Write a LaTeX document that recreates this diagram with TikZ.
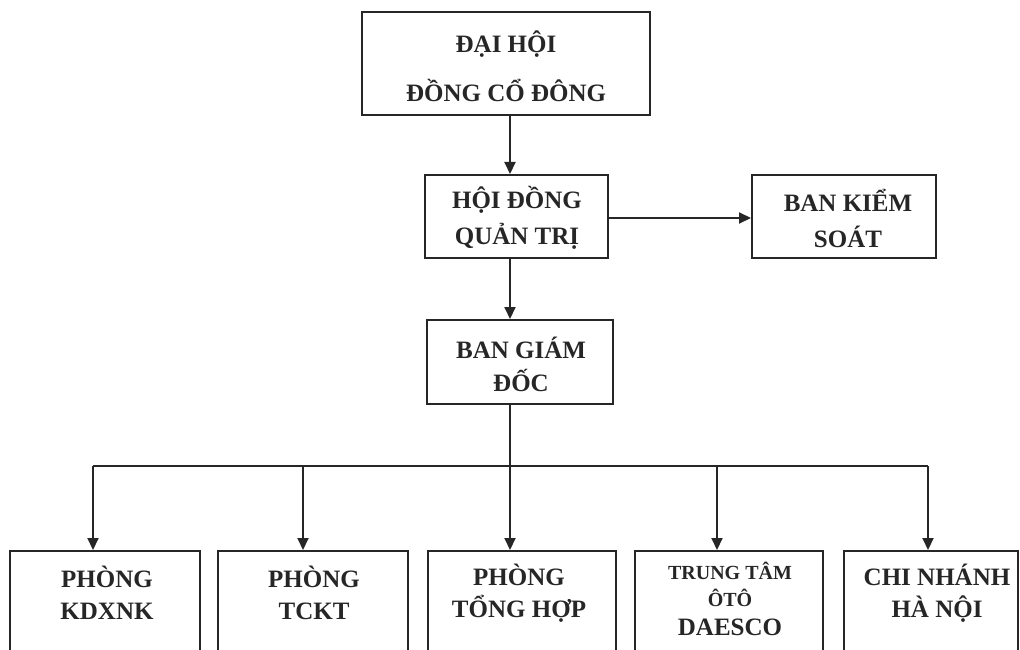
\documentclass[tikz,border=0pt]{standalone}
\usepackage{fontspec}
\setmainfont{Liberation Serif}
\usetikzlibrary{arrows.meta}
\definecolor{ink}{HTML}{262626}
\tikzset{
  box/.style={draw=ink, line width=2pt, rectangle, inner sep=0pt},
  lbl/.style={font=\bfseries\fontsize{25}{32}\selectfont, text=ink, align=center, inner sep=0pt},
  conn/.style={draw=ink, line width=2pt},
  arr/.style={conn, -{Triangle[length=12pt,width=11pt]}}
}
\begin{document}
\begin{tikzpicture}[x=1pt,y=-1pt]
\useasboundingbox (0,0) rectangle (1020,650);
\clip (0,0) rectangle (1020,650);
% top boxes
\node[box, minimum width=288pt, minimum height=103pt] (dh) at (506,63.5) {};
\node[lbl, font=\bfseries\fontsize{25}{49}\selectfont] (dht) at (506,66) {ĐẠI HỘI\\ĐỒNG CỔ ĐÔNG};
\node[box, minimum width=183pt, minimum height=83pt] (hd) at (516.5,216.5) {};
\node[lbl, font=\bfseries\fontsize{25}{36}\selectfont] (hdt) at (517,218) {HỘI ĐỒNG\\QUẢN TRỊ};
\node[box, minimum width=184pt, minimum height=83pt] (bks) at (844,216.5) {};
\node[lbl, font=\bfseries\fontsize{25}{36}\selectfont] (bkst) at (848,218) {BAN KIỂM\\SOÁT};
\node[box, minimum width=186pt, minimum height=84pt] (bgd) at (520,362) {};
\node[lbl, font=\bfseries\fontsize{25}{33}\selectfont] (bgdt) at (521,364) {BAN GIÁM\\ĐỐC};
% bottom boxes (cut off by the page edge)
\node[box, anchor=north, minimum width=190pt, minimum height=140pt] (p1) at (105,550) {};
\node[box, anchor=north, minimum width=190pt, minimum height=140pt] (p2) at (313,550) {};
\node[box, anchor=north, minimum width=188pt, minimum height=140pt] (p3) at (522,550) {};
\node[box, anchor=north, minimum width=188pt, minimum height=140pt] (p4) at (729,550) {};
\node[box, anchor=north, minimum width=174pt, minimum height=140pt] (p5) at (931,550) {};
\node[lbl] (p1t) at (107,593) {PHÒNG\\KDXNK};
\node[lbl] (p2t) at (314,593) {PHÒNG\\TCKT};
\node[lbl] (p3t) at (519,593) {PHÒNG\\TỔNG HỢP};
\node[lbl, font=\bfseries\fontsize{20}{27}\selectfont] (p4t) at (730,584) {TRUNG TÂM\\ÔTÔ};
\node[lbl] (p4u) at (730,627) {DAESCO};
\node[lbl] (p5t) at (937,593) {CHI NHÁNH\\HÀ NỘI};
% connectors
\draw[arr] (dh.south -| 510,0) -- (hd.north -| 510,0);
\draw[arr] (hd.east |- 0,218) -- (bks.west |- 0,218);
\draw[arr] (hd.south -| 510,0) -- (bgd.north -| 510,0);
\coordinate (bus) at (510,466);
\coordinate (busl) at (93,466);
\coordinate (busr) at (928,466);
\draw[conn] (bgd.south -| bus) -- (bus);
\draw[conn] (busl) -- (busr);
\draw[arr] (busl) -- (busl |- p1.north);
\draw[arr] (303,466) -- (p2.north -| 303,0);
\draw[arr] (bus) -- (bus |- p3.north);
\draw[arr] (717,466) -- (p4.north -| 717,0);
\draw[arr] (busr) -- (busr |- p5.north);
\end{tikzpicture}
\end{document}
